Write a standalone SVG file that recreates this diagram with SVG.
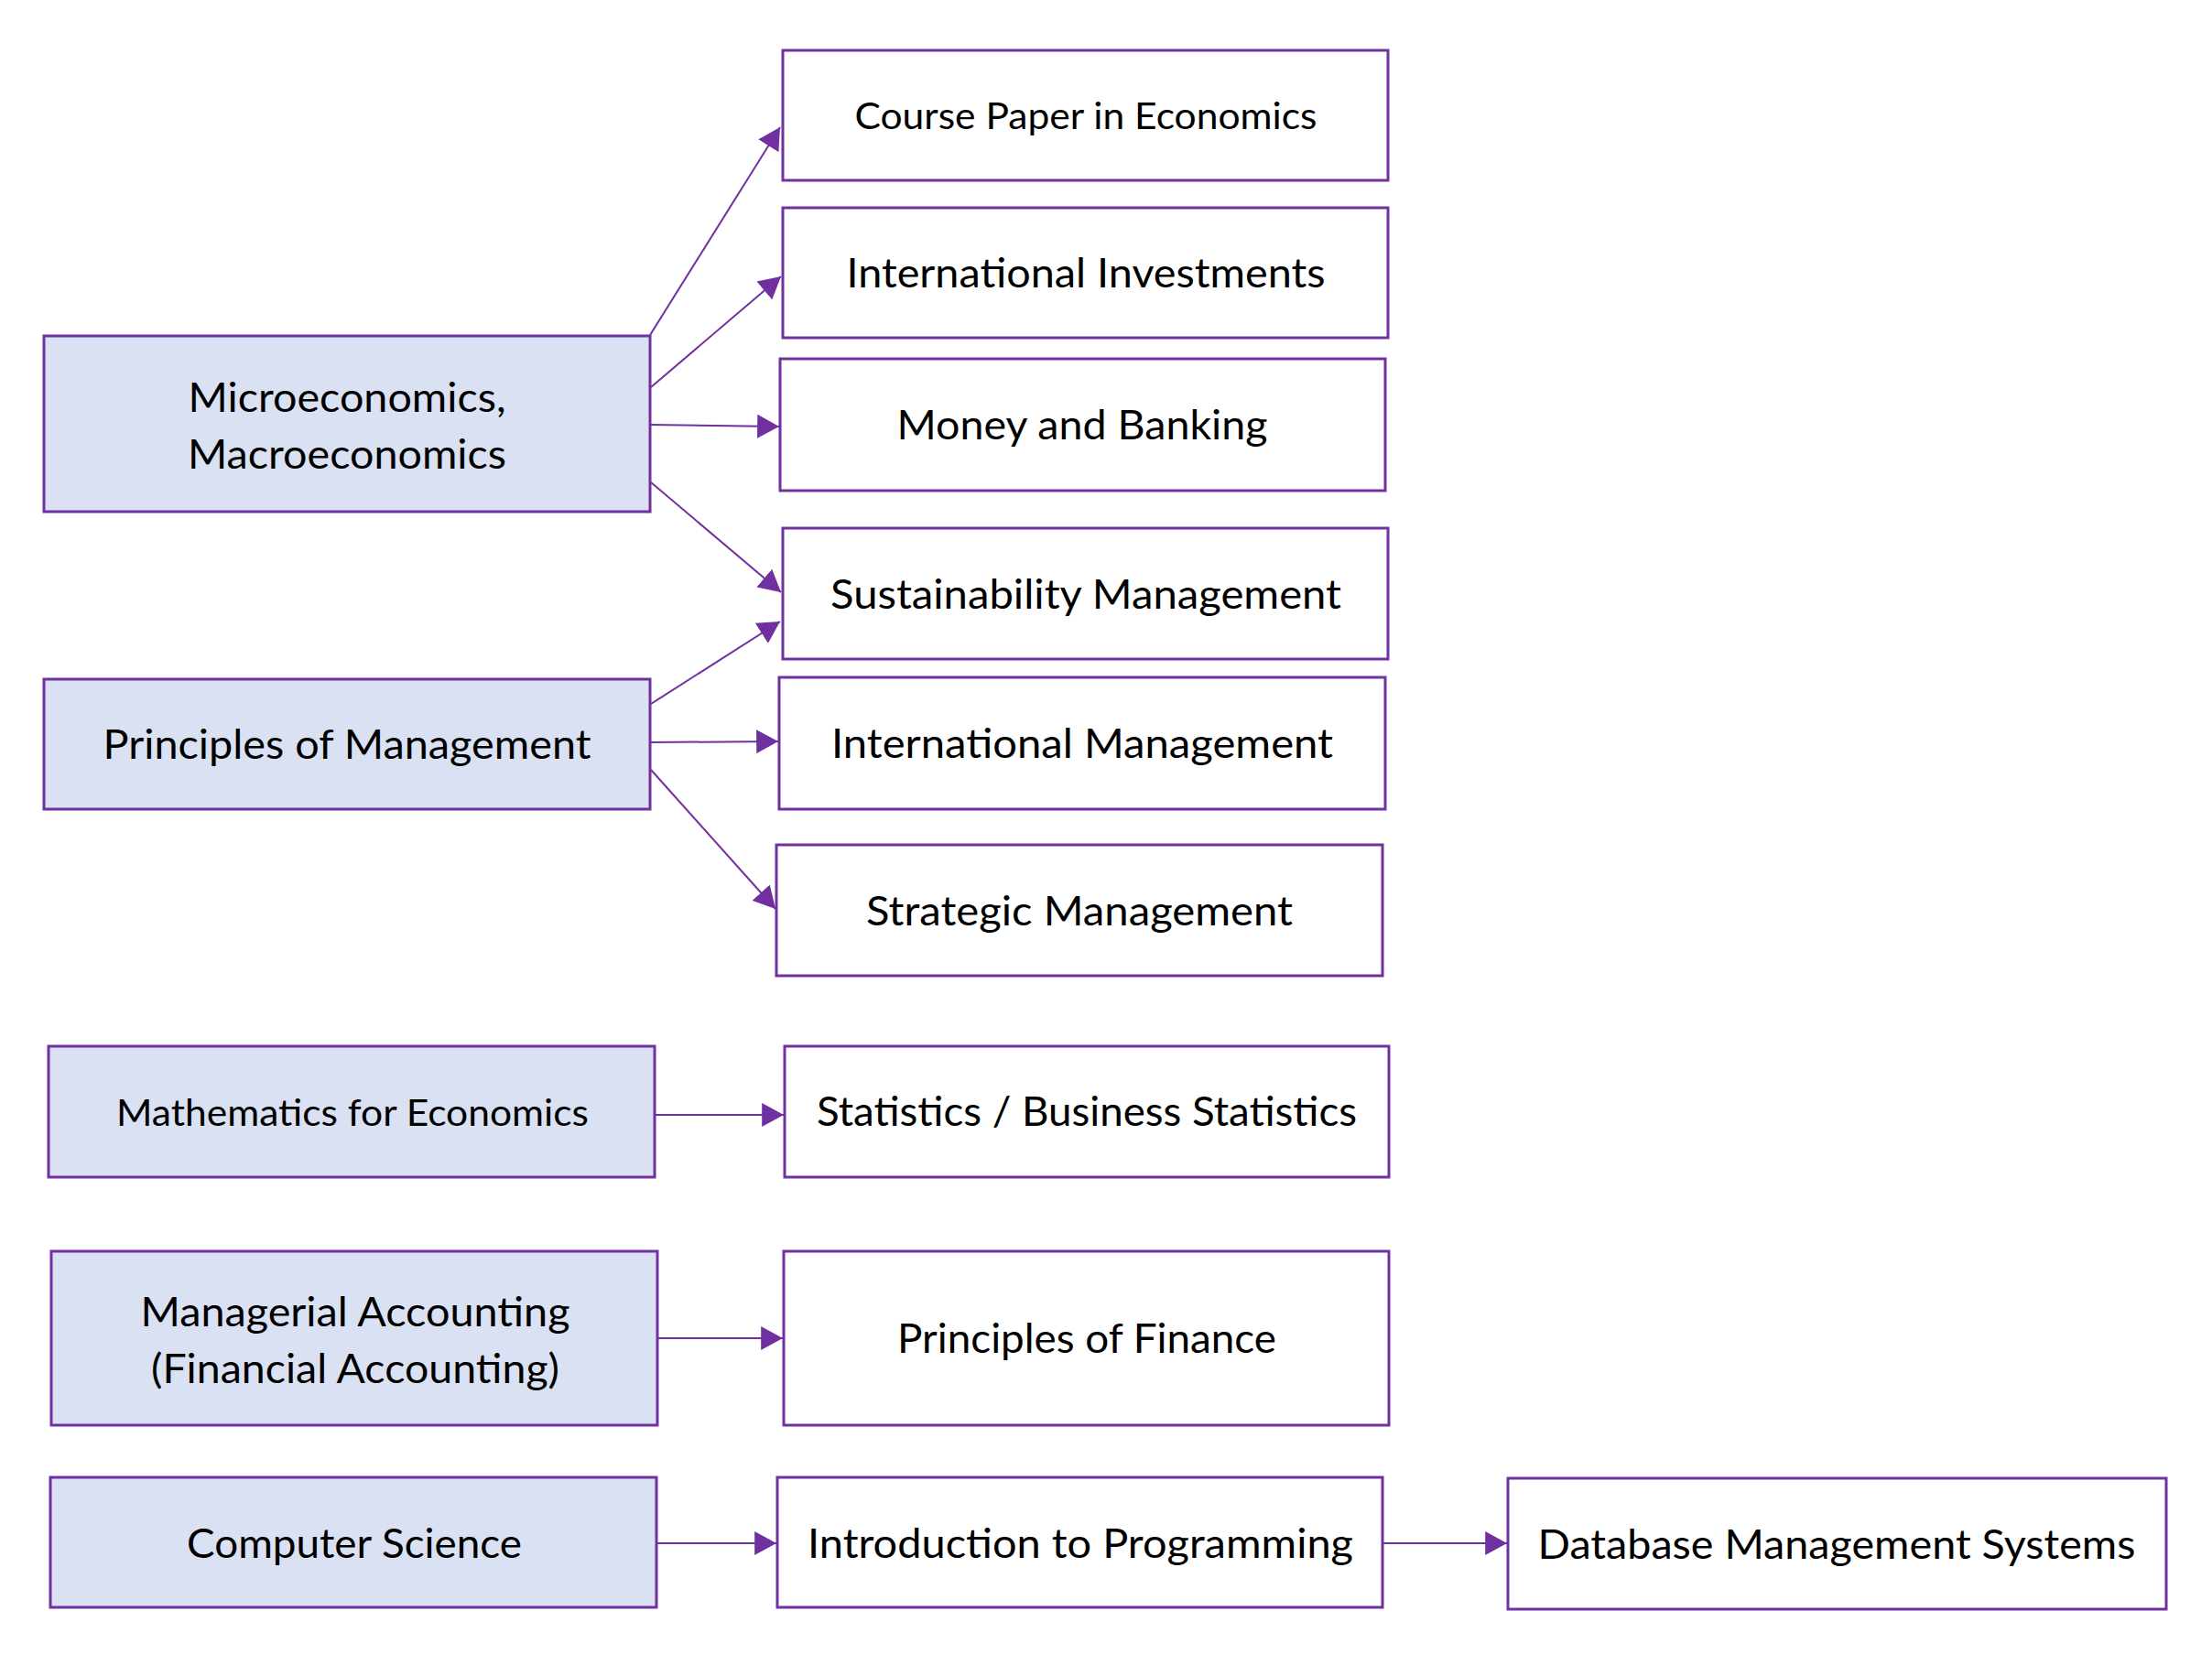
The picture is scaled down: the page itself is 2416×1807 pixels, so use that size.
<svg xmlns="http://www.w3.org/2000/svg" width="2416" height="1807" viewBox="0 0 2416 1807">
<style>
.box{fill:#ffffff;stroke:#7030A0;stroke-width:3}
.src{fill:#DAE1F3;stroke:#7030A0;stroke-width:3}
.t{font-family:Lato,"Open Sans","Liberation Sans",sans-serif;font-size:44.7px;fill:#000000;text-anchor:middle}
.s{font-size:40.5px}
.c{stroke:#7030A0;stroke-width:2;fill:none;marker-end:url(#ah)}
</style>
<defs>
<marker id="ah" markerUnits="userSpaceOnUse" markerWidth="24" markerHeight="26" viewBox="0 0 22 24" refX="22" refY="12" orient="auto">
<path d="M0,0 L22,12 L0,24 z" fill="#7030A0"/>
</marker>
</defs>
<rect width="2416" height="1807" fill="#ffffff"/>
<g id="connectors">
<line class="c" x1="710" y1="366" x2="852" y2="139"/>
<line class="c" x1="711" y1="423" x2="853" y2="302"/>
<line class="c" x1="711" y1="464" x2="851" y2="466"/>
<line class="c" x1="711" y1="527" x2="853" y2="647"/>
<line class="c" x1="711" y1="769" x2="852" y2="679"/>
<line class="c" x1="711" y1="811" x2="850" y2="810"/>
<line class="c" x1="711" y1="841" x2="847" y2="993"/>
<line class="c" x1="716" y1="1218" x2="856" y2="1218"/>
<line class="c" x1="719" y1="1462" x2="855" y2="1462"/>
<line class="c" x1="718" y1="1686" x2="848" y2="1686"/>
<line class="c" x1="1511" y1="1686" x2="1646" y2="1686"/>
</g>
<g id="micro-macro">
<rect class="src" x="48" y="367" width="662" height="192"/>
<text class="t" x="379" y="450" textLength="347" lengthAdjust="spacingAndGlyphs">Microeconomics,</text>
<text class="t" x="379" y="512" textLength="348" lengthAdjust="spacingAndGlyphs">Macroeconomics</text>
</g>
<g id="principles-management">
<rect class="src" x="48" y="742" width="662" height="142"/>
<text class="t" x="379" y="829" textLength="533" lengthAdjust="spacingAndGlyphs">Principles of Management</text>
</g>
<g id="mathematics">
<rect class="src" x="53" y="1143" width="662" height="143"/>
<text class="t s" x="385" y="1230" textLength="516" lengthAdjust="spacingAndGlyphs">Mathematics for Economics</text>
</g>
<g id="managerial-accounting">
<rect class="src" x="56" y="1367" width="662" height="190"/>
<text class="t" x="388" y="1449" textLength="469" lengthAdjust="spacingAndGlyphs">Managerial Accounting</text>
<text class="t" x="388" y="1511" textLength="446" lengthAdjust="spacingAndGlyphs">(Financial Accounting)</text>
</g>
<g id="computer-science">
<rect class="src" x="55" y="1614" width="662" height="142"/>
<text class="t" x="387" y="1702" textLength="366" lengthAdjust="spacingAndGlyphs">Computer Science</text>
</g>
<g id="course-paper">
<rect class="box" x="855" y="55" width="661" height="142"/>
<text class="t s" x="1186" y="141" textLength="505" lengthAdjust="spacingAndGlyphs">Course Paper in Economics</text>
</g>
<g id="international-investments">
<rect class="box" x="855" y="227" width="661" height="142"/>
<text class="t" x="1186" y="314" textLength="523" lengthAdjust="spacingAndGlyphs">International Investments</text>
</g>
<g id="money-banking">
<rect class="box" x="852" y="392" width="661" height="144"/>
<text class="t" x="1182" y="480" textLength="405" lengthAdjust="spacingAndGlyphs">Money and Banking</text>
</g>
<g id="sustainability-management">
<rect class="box" x="855" y="577" width="661" height="143"/>
<text class="t" x="1186" y="665" textLength="558" lengthAdjust="spacingAndGlyphs">Sustainability Management</text>
</g>
<g id="international-management">
<rect class="box" x="851" y="740" width="662" height="144"/>
<text class="t" x="1182" y="828" textLength="548" lengthAdjust="spacingAndGlyphs">International Management</text>
</g>
<g id="strategic-management">
<rect class="box" x="848" y="923" width="662" height="143"/>
<text class="t" x="1179" y="1011" textLength="466" lengthAdjust="spacingAndGlyphs">Strategic Management</text>
</g>
<g id="statistics">
<rect class="box" x="857" y="1143" width="660" height="143"/>
<text class="t" x="1187" y="1230" textLength="590" lengthAdjust="spacingAndGlyphs">Statistics / Business Statistics</text>
</g>
<g id="principles-finance">
<rect class="box" x="856" y="1367" width="661" height="190"/>
<text class="t" x="1187" y="1478" textLength="414" lengthAdjust="spacingAndGlyphs">Principles of Finance</text>
</g>
<g id="intro-programming">
<rect class="box" x="849" y="1614" width="661" height="142"/>
<text class="t" x="1180" y="1702" textLength="596" lengthAdjust="spacingAndGlyphs">Introduction to Programming</text>
</g>
<g id="dbms">
<rect class="box" x="1647" y="1615" width="719" height="143"/>
<text class="t" x="2006" y="1703" textLength="653" lengthAdjust="spacingAndGlyphs">Database Management Systems</text>
</g>
</svg>
